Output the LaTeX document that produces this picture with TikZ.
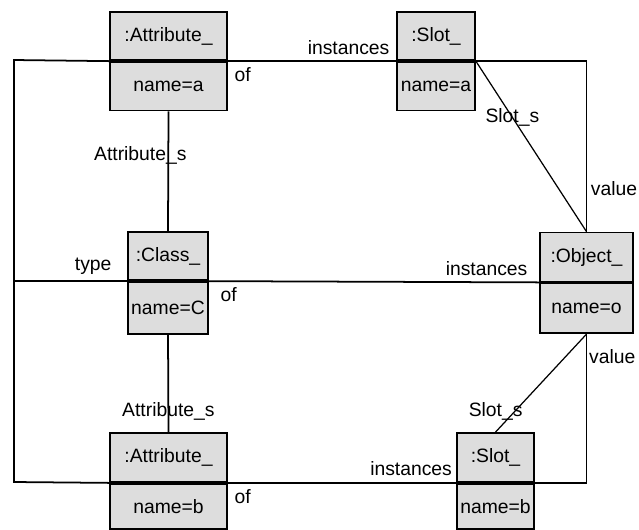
\documentclass[tikz,border=0pt]{standalone}
\usepackage{fontspec}
\setmainfont{Liberation Sans}
\usepackage{tikz}
\definecolor{boxgray}{RGB}{221,221,221}

\begin{document}
\begin{tikzpicture}[
    x=0.02cm,
    y=-0.02cm,
    line width=1pt,
    font=\fontsize{11}{13}\selectfont,
    part/.style={draw, fill=boxgray, inner sep=0pt, minimum height=0.97cm},
    link/.style={line width=0.7pt}
]

    \useasboundingbox (0,0) rectangle (639,529);

    % Attribute a
    \node[part, minimum width=2.34cm] (attrA) at (168.5,36) {:Attribute\_};
    \node[part, minimum width=2.34cm, anchor=north] (attrAv) at (attrA.south) {name=a};

    % Slot a
    \node[part, minimum width=1.56cm] (slotA) at (436,36) {:Slot\_};
    \node[part, minimum width=1.56cm, anchor=north] (slotAv) at (slotA.south) {name=a};

    % Class
    \node[part, minimum width=1.6cm] (cls) at (168,256) {:Class\_};
    \node[part, minimum width=1.6cm, minimum height=1.04cm, anchor=north] (clsv) at (cls.south) {name=C};

    % Object
    \node[part, minimum width=1.86cm, minimum height=0.98cm] (obj) at (586.5,257) {:Object\_};
    \node[part, minimum width=1.86cm, minimum height=1cm, anchor=north] (objv) at (obj.south) {name=o};

    % Attribute b
    \node[part, minimum width=2.34cm, minimum height=0.98cm] (attrB) at (168.5,457.5) {:Attribute\_};
    \node[part, minimum width=2.34cm, minimum height=0.9cm, anchor=north] (attrBv) at (attrB.south) {name=b};

    % Slot b
    \node[part, minimum width=1.54cm, minimum height=0.98cm] (slotB) at (495.5,457.5) {:Slot\_};
    \node[part, minimum width=1.54cm, minimum height=0.9cm, anchor=north] (slotBv) at (slotB.south) {name=b};

    % Corners
    \coordinate (tl) at (14,60);
    \coordinate (bl) at (14,482);
    \coordinate (ml) at (tl |- cls.south west);
    \coordinate (tr) at (obj.north |- slotA.south east);
    \coordinate (br) at (objv.south |- slotB.south east);

    % type
    \draw (attrA.south west) -- (tl) -- (bl) -- (attrB.south west);
    \draw (cls.south west) -- (ml)
        node[pos=0.3, above] {type};

    % of / instances
    \draw (attrA.south east) -- (slotA.south west)
        node[pos=0, anchor=north west] {of}
        node[pos=1, anchor=south east] {instances};

    \draw (cls.south east) -- (obj.south west)
        node[pos=0, anchor=north west, xshift=0.1cm] {of}
        node[pos=1, anchor=south east, xshift=-0.1cm] {instances};

    \draw (attrB.south east) -- (slotB.south west)
        node[pos=0, anchor=north west] {of}
        node[pos=1, anchor=south east, xshift=0.05cm] {instances};

    % value
    \draw (slotA.south east) -- (tr) -- (obj.north)
        node[pos=0.75, right, inner sep=2pt] {value};

    \draw (slotB.south east) -- (br) -- (objv.south)
        node[pos=0.85, right, inner sep=1pt] {value};

    % Slot_s
    \draw[link] (slotA.south east) -- (obj.north)
        node[pos=0.33] {Slot\_s};

    \draw[link] (objv.south) -- (slotB.north)
        node[pos=0.79, xshift=-0.38cm] {Slot\_s};

    % Attribute_s
    \draw (attrAv.south) -- (cls.north)
        node[pos=0.37, xshift=-0.56cm] {Attribute\_s};

    \draw (clsv.south) -- (attrB.north)
        node[pos=0.79] {Attribute\_s};

\end{tikzpicture}
\end{document}
